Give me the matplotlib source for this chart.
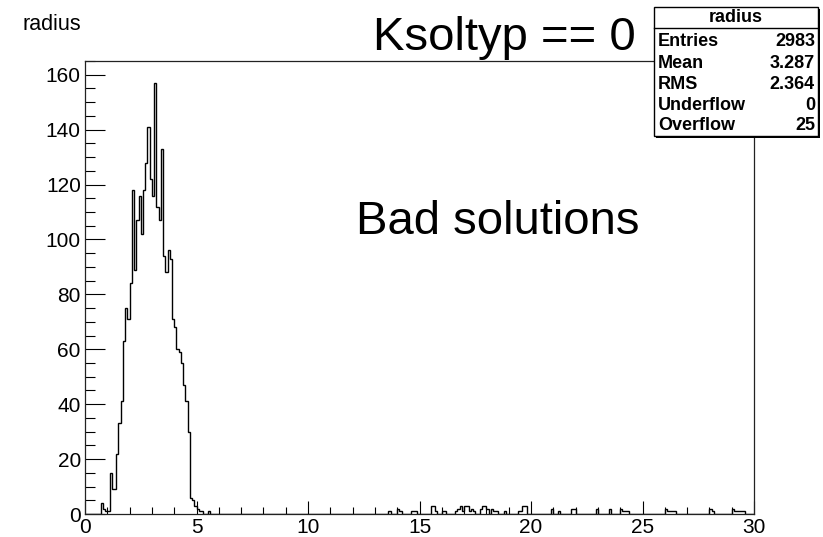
import numpy as np
import matplotlib
matplotlib.use("Agg")
import matplotlib.pyplot as plt
from matplotlib.patches import Rectangle
from matplotlib.lines import Line2D

plt.rcParams['font.family'] = ['Liberation Sans', 'DejaVu Sans']

# histogram "radius": 300 bins of width 0.1 on [0, 30], only non-empty bins listed
bin_lo = [0.7, 0.8, 0.9, 1.0, 1.1, 1.2, 1.3, 1.4, 1.5, 1.6, 1.7, 1.8, 1.9, 2.0,
          2.1, 2.2, 2.3, 2.4, 2.5, 2.6, 2.7, 2.8, 2.9, 3.0, 3.1,
          3.2, 3.3, 3.4, 3.5, 3.6, 3.7, 3.8, 3.9, 4.0, 4.1, 4.2, 4.3, 4.4, 4.5, 4.6,
          4.7, 4.8, 4.9, 5.0, 5.1, 5.2, 5.5,
          13.6, 14.0, 14.1, 14.6, 14.7, 14.8,
          15.5, 15.6, 15.7, 16.0, 16.1, 16.6, 16.7, 16.8, 16.9, 17.0, 17.1, 17.2,
          17.3, 17.4, 17.7, 17.8, 17.9, 18.0, 18.2, 18.3, 18.4, 18.8, 19.4, 19.5,
          19.6, 19.7, 20.9, 21.2, 21.8, 21.9, 22.9, 23.5, 24.0, 24.1, 24.2, 24.3,
          26.0, 26.1, 26.2, 26.3, 26.4, 28.0, 28.1, 29.0, 29.1, 29.2, 29.3, 29.4, 29.5]
counts = [4, 2, 1, 1, 15, 9, 9, 22, 33, 41, 63, 75, 71, 84,
          118, 89, 107, 116, 102, 118, 128, 141, 122, 116, 157,
          112, 107, 133, 94, 88, 96, 93, 71, 68, 60, 59, 55, 47, 41, 30,
          6, 5, 3, 2, 1, 1, 1,
          1, 2, 1, 1, 1, 1,
          3, 3, 1, 1, 1, 1, 2, 3, 1, 3, 3, 1,
          2, 1, 2, 3, 3, 2, 2, 1, 1, 1, 1, 1,
          3, 3, 2, 1, 2, 2, 2, 2, 2, 1, 1, 1,
          2, 1, 1, 1, 1, 2, 1, 2, 1, 1, 1, 1, 1]

stats_labels = ["Entries", "Mean", "RMS", "Underflow", "Overflow"]
stats_values = ["2983", "3.287", "2.364", "0", "25"]

W, H = 823, 537
fig = plt.figure(figsize=(W / 100, H / 100), dpi=100)
fig.patch.set_facecolor('white')

# frame in pixels: left 85, right 754, top 61, bottom 514
ax = fig.add_axes([85 / W, 1 - 514 / H, (754 - 85) / W, (514 - 61) / H])

edges = np.linspace(0, 30, 301)
centers = np.round(np.array(bin_lo) + 0.05, 3)
ax.hist(centers, bins=edges, weights=counts, histtype='step', color='black', lw=1.0)

ax.set_xlim(0, 30)
ax.set_ylim(0, 165)
ax.set_xticks(np.arange(0, 31, 5))
ax.set_xticks(np.arange(0, 31, 1), minor=True)
ax.set_yticks(np.arange(0, 161, 20))
ax.set_yticks(np.arange(0, 166, 5), minor=True)
ax.tick_params(axis='x', which='major', direction='in', length=9.5, width=0.8,
               labelsize=15, pad=3, colors='black')
ax.tick_params(axis='x', which='minor', direction='in', length=4.8, width=0.8)
ax.tick_params(axis='y', which='major', direction='in', length=14.5, width=0.8,
               labelsize=15, pad=3)
ax.tick_params(axis='y', which='minor', direction='in', length=7.2, width=0.8)
for s in ax.spines.values():
    s.set_linewidth(0.9)
    s.set_color('#222222')

# titles / annotations
fig.text(22 / W, 1 - 25 / H, "radius", fontsize=15.5, va='center', ha='left')
fig.text(504 / W, 1 - 38 / H, "Ksoltyp == 0", fontsize=34, va='center', ha='center')
fig.text(498 / W, 1 - 222 / H, "Bad solutions", fontsize=34, va='center', ha='center')

# stats box
bx0, by0, bx1, by1 = 654, 7, 818, 136
fig.patches.append(Rectangle((bx0 / W + 2 / W, 1 - (by1 + 2) / H), (bx1 - bx0) / W, (by1 - by0) / H,
                             transform=fig.transFigure, facecolor='black', edgecolor='black', lw=0, zorder=5))
fig.patches.append(Rectangle((bx0 / W, 1 - by1 / H), (bx1 - bx0) / W, (by1 - by0) / H,
                             transform=fig.transFigure, facecolor='white', edgecolor='black', lw=1.0, zorder=6))
fig.lines.append(Line2D([bx0 / W, bx1 / W], [1 - 28 / H, 1 - 28 / H], transform=fig.transFigure,
                        color='black', lw=1.0, zorder=7))
fig.text((bx0 + bx1) / 2 / W, 1 - 18 / H, "radius", fontsize=13, fontweight='bold',
         ha='center', va='center', zorder=8)
row_y = [42, 63, 84, 105, 126]
for lab, val, yy in zip(stats_labels, stats_values, row_y):
    fig.text(658 / W, 1 - yy / H, lab, fontsize=13, fontweight='bold', ha='left', va='center', zorder=8)
    fig.text(815 / W, 1 - yy / H, val, fontsize=13, fontweight='bold', ha='right', va='center', zorder=8)

fig.savefig("out.png", dpi=100, facecolor='white')
